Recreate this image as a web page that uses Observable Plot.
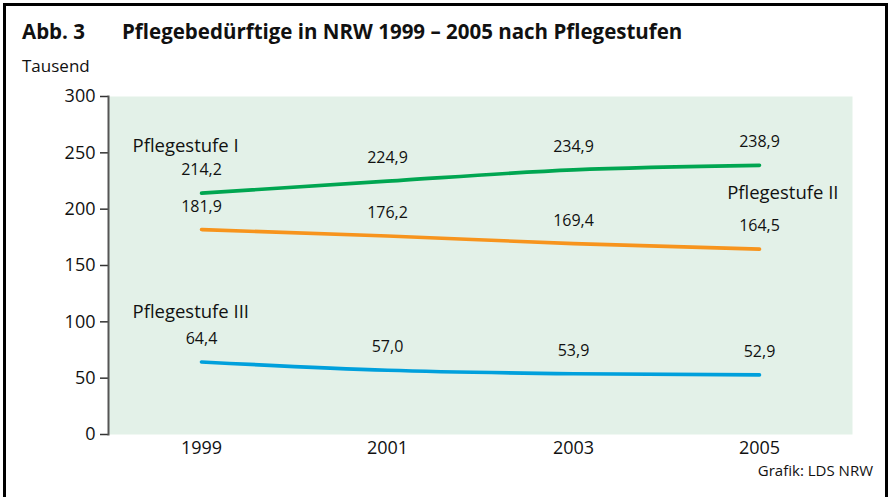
<!DOCTYPE html>
<html>
<head>
<meta charset="utf-8">
<script src="https://cdn.jsdelivr.net/npm/d3@7"></script>
<script src="https://cdn.jsdelivr.net/npm/@observablehq/plot@0.6"></script>
<style>
  html, body { margin: 0; padding: 0; background: #fff; }
  body { width: 890px; height: 497px; position: relative; overflow: hidden; font-family: "Open Sans", sans-serif; color: #111; }
  #border { position: absolute; left: 3px; top: 3px; width: 879px; height: 520px; border: 3px solid #000; border-bottom: none; }
  .t { position: absolute; white-space: nowrap; line-height: 1; }
  #abb { left: 22px; top: 21px; font-weight: bold; font-size: 20.5px; }
  #title { left: 122px; top: 21px; font-weight: bold; font-size: 20.5px; }
  #unit { left: 22px; top: 57px; font-size: 17px; }
  #source { right: 17px; top: 463px; font-size: 15px; }
  #chart { position: absolute; left: 0; top: 0; }
</style>
</head>
<body>
<div id="border"></div>
<div class="t" id="abb">Abb. 3</div>
<div class="t" id="title">Pflegebedürftige in NRW 1999 – 2005 nach Pflegestufen</div>
<div class="t" id="unit">Tausend</div>
<div id="chart"></div>
<div class="t" id="source">Grafik: LDS NRW</div>
<script>
const years = [1999, 2001, 2003, 2005];
const stufe1 = [214.2, 224.9, 234.9, 238.9];
const stufe2 = [181.9, 176.2, 169.4, 164.5];
const stufe3 = [64.4, 57.0, 53.9, 52.9];
const seriesNames = ["Pflegestufe I", "Pflegestufe II", "Pflegestufe III"];
const seriesColors = ["#00a651", "#f7941d", "#00a0dc"];
const yTicks = [0, 50, 100, 150, 200, 250, 300];

const allValues = [stufe1, stufe2, stufe3];
const data = [];
allValues.forEach((vals, i) => {
  vals.forEach((v, j) => data.push({ year: years[j], value: v, series: seriesNames[i] }));
});
const fmt = v => v.toFixed(1).replace(".", ",");
const first = name => data.filter(d => d.series === name)[0];
const last = name => data.filter(d => d.series === name).slice(-1)[0];

const chart = Plot.plot({
  width: 890,
  height: 470,
  marginLeft: 108,
  marginRight: 38,
  marginTop: 96,
  marginBottom: 36,
  style: { fontFamily: "Open Sans, sans-serif", fontSize: "18px", color: "#111", background: "transparent" },
  x: { domain: [1998, 2006] },
  y: { domain: [0, 300] },
  color: { domain: seriesNames, range: seriesColors },
  marks: [
    Plot.frame({ fill: "#e3f1e8", stroke: null }),
    Plot.axisX({ ticks: years, tickFormat: "d", tickSize: 0, tickPadding: 7, label: null, fontSize: 18 }),
    Plot.axisY({ ticks: yTicks, tickSize: 8, tickPadding: 5, label: null, fontSize: 18, stroke: "#333", strokeWidth: 1.5 }),
    Plot.frame({ anchor: "left", stroke: "#555", strokeWidth: 2 }),
    Plot.line(data, { x: "year", y: "value", z: "series", stroke: "series", strokeWidth: 3.6, curve: "monotone-x", strokeLinecap: "round" }),
    Plot.text(data, { x: "year", y: "value", text: d => fmt(d.value), dy: -23, fontSize: 16, fill: "#111" }),
    Plot.text([first("Pflegestufe I")], { x: "year", y: "value", text: d => d.series, dx: -69, dy: -47, textAnchor: "start", fontSize: 18.5, fill: "#111" }),
    Plot.text([last("Pflegestufe II")], { x: "year", y: "value", text: d => d.series, dx: 79, dy: -56, textAnchor: "end", fontSize: 18.5, fill: "#111" }),
    Plot.text([first("Pflegestufe III")], { x: "year", y: "value", text: d => d.series, dx: -69, dy: -50, textAnchor: "start", fontSize: 18.5, fill: "#111" })
  ]
});
document.getElementById("chart").appendChild(chart);
</script>
</body>
</html>
